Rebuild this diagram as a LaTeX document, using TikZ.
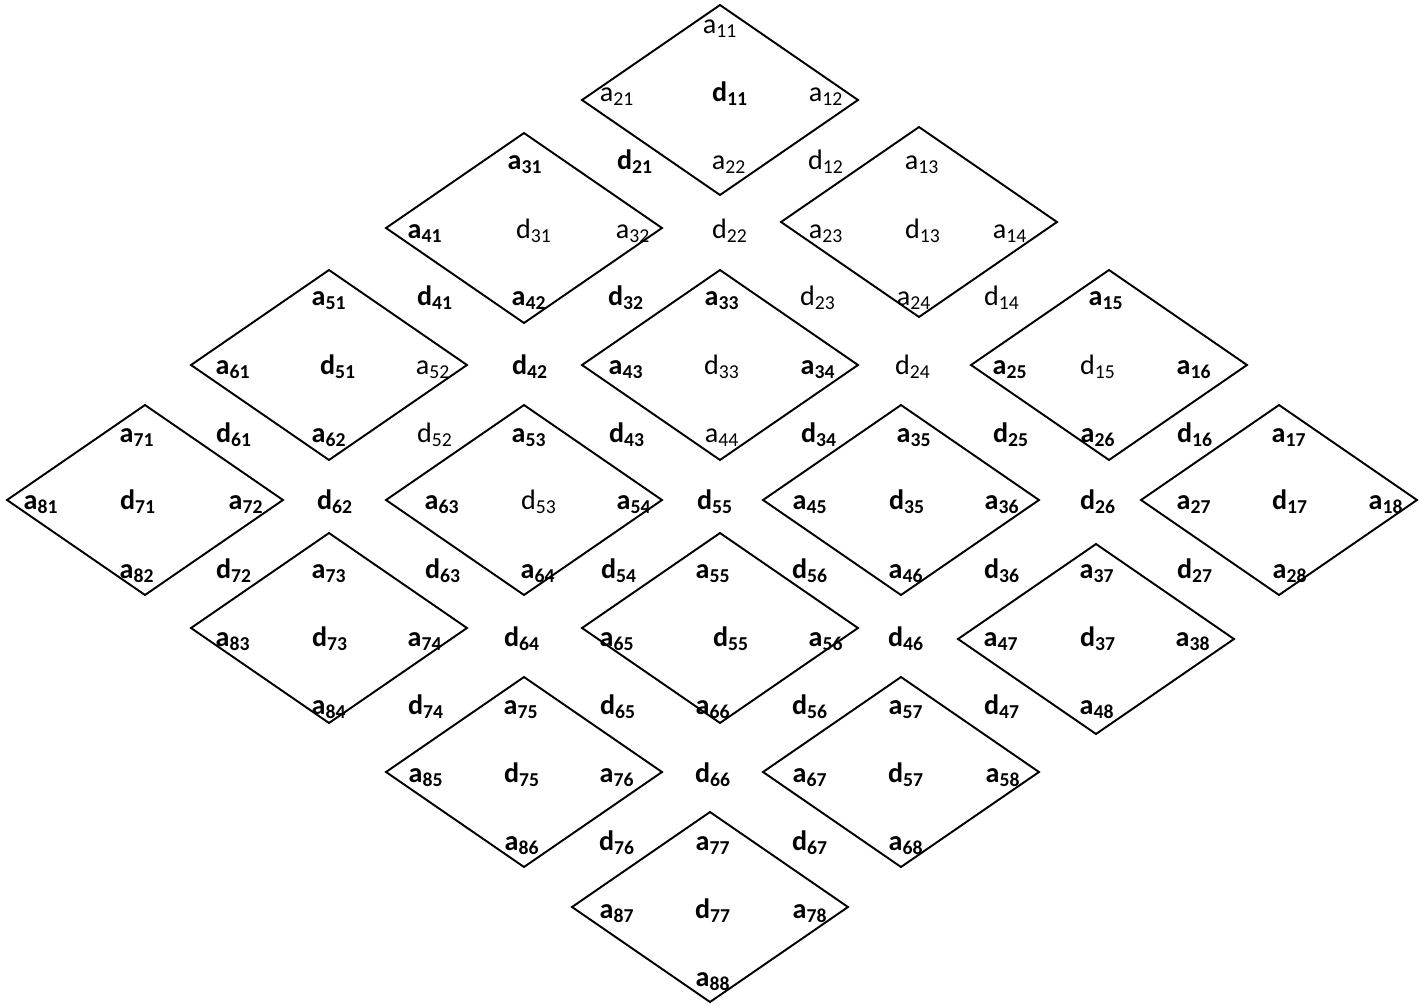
\documentclass[tikz,border=0pt]{standalone}
\usepackage{fontspec}
\setmainfont{Carlito}
\usepackage{tikz}
\usetikzlibrary{shapes.geometric}

\tikzset{
  rhomb/.style={diamond, draw, line width=1.1pt, minimum width=5.52cm, minimum height=3.8cm, inner sep=0pt, outer sep=0pt},
  lbl/.style={anchor=base, inner sep=0pt, yshift=-0.02cm, font=\fontsize{16}{19}\selectfont},
  reg/.style={lbl},
  bld/.style={lbl, font=\fontsize{16}{19}\selectfont\bfseries}
}

\begin{document}
\begin{tikzpicture}[x=0.02cm, y=-0.02cm]
	\useasboundingbox (0,0) rectangle (1427,1005);
	% diamonds
	\foreach \n/\x/\y in {1/720/100, 2/524/228, 3/919/222, 4/329/365, 5/720/365, 6/1109/365, 7/145/500, 8/524/500, 9/901/500, 10/1279/500, 11/329/628, 12/720/628, 13/1096/639, 14/524/772, 15/901/772, 16/710/907} {\node[rhomb] (r\n) at (\x,\y) {};}
	% labels, row by row
	\foreach \x/\k/\i/\f in {720/a/11/reg} {\node[\f] (\k\i-1) at (\x,32) {\k\textsubscript{\i}};}
	\foreach \x/\k/\i/\f in {617/a/21/reg, 730/d/11/bld, 826/a/12/reg} {\node[\f] (\k\i-2) at (\x,100) {\k\textsubscript{\i}};}
	\foreach \x/\k/\i/\f in {635/d/21/bld, 525/a/31/bld, 729/a/22/reg, 826/d/12/reg, 922/a/13/reg} {\node[\f] (\k\i-3) at (\x,168) {\k\textsubscript{\i}};}
	\foreach \x/\k/\i/\f in {425/a/41/bld, 534/d/31/reg, 633/a/32/reg, 730/d/22/reg, 826/a/23/reg, 923/d/13/reg, 1010/a/14/reg} {\node[\f] (\k\i-4) at (\x,237) {\k\textsubscript{\i}};}
	\foreach \x/\k/\i/\f in {329/a/51/bld, 435/d/41/bld, 529/a/42/bld, 626/d/32/bld, 722/a/33/bld, 818/d/23/reg, 914/a/24/reg, 1002/d/14/reg, 1106/a/15/bld} {\node[\f] (\k\i-5) at (\x,304) {\k\textsubscript{\i}};}
	\foreach \x/\k/\i/\f in {233/a/61/bld, 338/d/51/bld, 433/a/52/reg, 530/d/42/bld, 626/a/43/bld, 722/d/33/reg, 818/a/34/bld, 913/d/24/reg, 1010/a/25/bld, 1098/d/15/reg, 1194/a/16/bld} {\node[\f] (\k\i-6) at (\x,373) {\k\textsubscript{\i}};}
	\foreach \x/\k/\i/\f in {137/a/71/bld, 234/d/61/bld, 329/a/62/bld, 435/d/52/reg, 529/a/53/bld, 627/d/43/bld, 722/a/44/reg, 819/d/34/bld, 914/a/35/bld, 1011/d/25/bld, 1098/a/26/bld, 1195/d/16/bld, 1289/a/17/bld} {\node[\f] (\k\i-7) at (\x,441) {\k\textsubscript{\i}};}
	\foreach \x/\k/\i/\f in {41/a/81/bld, 138/d/71/bld, 246/a/72/bld, 335/d/62/bld, 442/a/63/bld, 539/d/53/reg, 634/a/54/bld, 715/d/55/bld, 810/a/45/bld, 907/d/35/bld, 1002/a/36/bld, 1098/d/26/bld, 1194/a/27/bld, 1290/d/17/bld, 1386/a/18/bld} {\node[\f] (\k\i-8) at (\x,508) {\k\textsubscript{\i}};}
	\foreach \x/\k/\i/\f in {137/a/82/bld, 234/d/72/bld, 329/a/73/bld, 443/d/63/bld, 538/a/64/bld, 619/d/54/bld, 713/a/55/bld, 810/d/56/bld, 906/a/46/bld, 1002/d/36/bld, 1097/a/37/bld, 1195/d/27/bld, 1290/a/28/bld} {\node[\f] (\k\i-9) at (\x,577) {\k\textsubscript{\i}};}
	\foreach \x/\k/\i/\f in {233/a/83/bld, 330/d/73/bld, 425/a/74/bld, 522/d/64/bld, 617/a/65/bld, 731/d/55/bld, 826/a/56/bld, 906/d/46/bld, 1001/a/47/bld, 1098/d/37/bld, 1193/a/38/bld} {\node[\f] (\k\i-10) at (\x,645) {\k\textsubscript{\i}};}
	\foreach \x/\k/\i/\f in {329/a/84/bld, 426/d/74/bld, 521/a/75/bld, 618/d/65/bld, 713/a/66/bld, 810/d/56/bld, 906/a/57/bld, 1002/d/47/bld, 1097/a/48/bld} {\node[\f] (\k\i-11) at (\x,713) {\k\textsubscript{\i}};}
	\foreach \x/\k/\i/\f in {426/a/85/bld, 522/d/75/bld, 617/a/76/bld, 713/d/66/bld, 810/a/67/bld, 906/d/57/bld, 1003/a/58/bld} {\node[\f] (\k\i-12) at (\x,781) {\k\textsubscript{\i}};}
	\foreach \x/\k/\i/\f in {522/a/86/bld, 617/d/76/bld, 713/a/77/bld, 810/d/67/bld, 906/a/68/bld} {\node[\f] (\k\i-13) at (\x,849) {\k\textsubscript{\i}};}
	\foreach \x/\k/\i/\f in {617/a/87/bld, 713/d/77/bld, 810/a/78/bld} {\node[\f] (\k\i-14) at (\x,917) {\k\textsubscript{\i}};}
	\foreach \x/\k/\i/\f in {713/a/88/bld} {\node[\f] (\k\i-15) at (\x,985) {\k\textsubscript{\i}};}
\end{tikzpicture}
\end{document}
